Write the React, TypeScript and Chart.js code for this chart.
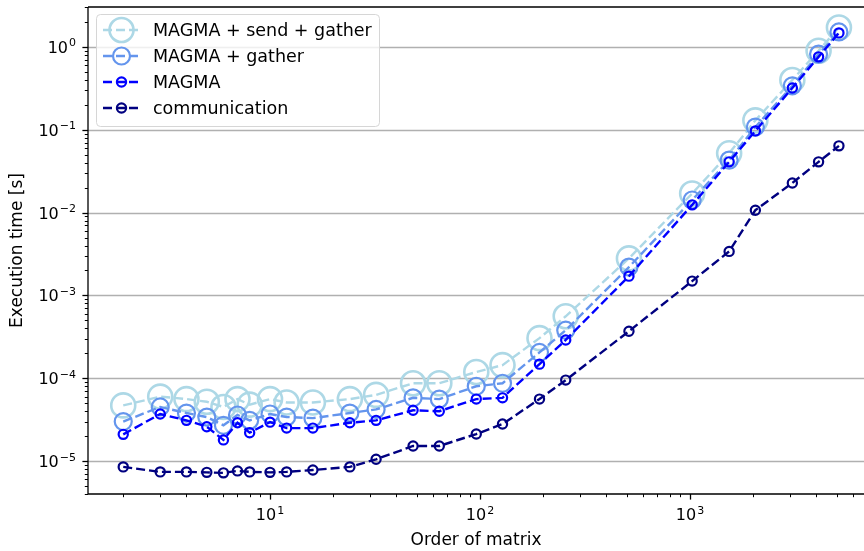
import React, { useEffect, useRef } from 'react';
import { Chart, registerables } from 'chart.js';

Chart.register(...registerables);

// Matrix orders (x) and execution times in seconds (y)
const orders = [2, 3, 4, 5, 6, 7, 8, 10, 12, 16, 24, 32, 48, 64, 96, 128, 192, 256, 512, 1024, 1536, 2048, 3072, 4096, 5120];
const magmaSendGather = [4.7e-5, 6.0e-5, 5.6e-5, 5.2e-5, 4.5e-5, 5.6e-5, 4.8e-5, 5.6e-5, 5.1e-5, 5.1e-5, 5.6e-5, 6.3e-5, 8.7e-5, 8.7e-5, 1.19e-4, 1.44e-4, 3.05e-4, 5.6e-4, 2.8e-3, 1.7e-2, 5.2e-2, 0.13, 0.4, 0.9, 1.72];
const magmaGather = [3.0e-5, 4.5e-5, 3.8e-5, 3.4e-5, 2.7e-5, 3.6e-5, 3.1e-5, 3.7e-5, 3.4e-5, 3.3e-5, 3.8e-5, 4.2e-5, 5.8e-5, 5.6e-5, 8.0e-5, 8.7e-5, 2.05e-4, 3.8e-4, 2.2e-3, 1.42e-2, 4.3e-2, 0.108, 0.34, 0.82, 1.52];
const magma = [2.1e-5, 3.7e-5, 3.1e-5, 2.6e-5, 1.8e-5, 2.9e-5, 2.2e-5, 2.95e-5, 2.5e-5, 2.5e-5, 2.9e-5, 3.1e-5, 4.1e-5, 4.0e-5, 5.6e-5, 5.8e-5, 1.48e-4, 2.9e-4, 1.71e-3, 1.24e-2, 4.1e-2, 9.7e-2, 0.32, 0.76, 1.48];
const communication = [8.5e-6, 7.4e-6, 7.4e-6, 7.3e-6, 7.2e-6, 7.6e-6, 7.4e-6, 7.3e-6, 7.4e-6, 7.8e-6, 8.5e-6, 1.05e-5, 1.52e-5, 1.52e-5, 2.12e-5, 2.8e-5, 5.6e-5, 9.5e-5, 3.7e-4, 1.49e-3, 3.4e-3, 1.07e-2, 2.28e-2, 4.1e-2, 6.4e-2];

// Decade exponents that get a labelled major tick
const xTickExponents = [1, 2, 3];
const yTickExponents = [-5, -4, -3, -2, -1, 0];

const X_MIN = 1.359;
const X_MAX = 6740;
const Y_MIN = 4.0e-6;
const Y_MAX = 3.04;

const FONT = "'DejaVu Sans', sans-serif";

type SeriesStyle = {
  label: string;
  values: number[];
  color: string;
  radius: number;
  markerWidth: number;
};

const series: SeriesStyle[] = [
  { label: 'MAGMA + send + gather', values: magmaSendGather, color: '#add8e6', radius: 12, markerWidth: 2.6 },
  { label: 'MAGMA + gather', values: magmaGather, color: '#6495ed', radius: 8.5, markerWidth: 2.2 },
  { label: 'MAGMA', values: magma, color: '#0000ff', radius: 4.6, markerWidth: 2.2 },
  { label: 'communication', values: communication, color: '#000080', radius: 4.6, markerWidth: 2.2 },
];

const LINE_WIDTH = 2.4;
const DASH = [9, 4];

function logTicks(min: number, max: number) {
  const out: { v: number; major: boolean; exp: number }[] = [];
  for (let e = Math.floor(Math.log10(min)); e <= Math.ceil(Math.log10(max)); e++) {
    for (let m = 1; m <= 9; m++) {
      const v = m * Math.pow(10, e);
      if (v >= min && v <= max) out.push({ v, major: m === 1, exp: e });
    }
  }
  return out;
}

function drawPower(ctx: CanvasRenderingContext2D, exp: number, x: number, y: number, align: 'right' | 'center') {
  const base = '10';
  const sup = exp < 0 ? '\u2212' + Math.abs(exp) : String(exp);
  ctx.font = `16px ${FONT}`;
  const wb = ctx.measureText(base).width;
  ctx.font = `11px ${FONT}`;
  const ws = ctx.measureText(sup).width;
  const total = wb + ws + 1;
  const left = align === 'right' ? x - total : x - total / 2;
  ctx.textAlign = 'left';
  ctx.textBaseline = 'alphabetic';
  ctx.font = `16px ${FONT}`;
  ctx.fillText(base, left, y);
  ctx.font = `11px ${FONT}`;
  ctx.fillText(sup, left + wb + 1, y - 6.5);
}

const decorPlugin = {
  id: 'decor',
  beforeDatasetsDraw(chart: any) {
    const { ctx, chartArea: a, scales } = chart;
    const y = scales.y;
    ctx.save();
    ctx.strokeStyle = '#b0b0b0';
    ctx.lineWidth = 1.3;
    for (const e of yTickExponents) {
      const py = Math.round(y.getPixelForValue(Math.pow(10, e))) + 0.5;
      ctx.beginPath();
      ctx.moveTo(a.left, py);
      ctx.lineTo(a.right, py);
      ctx.stroke();
    }
    ctx.restore();
  },
  afterDraw(chart: any) {
    const { ctx, chartArea: a, scales } = chart;
    const x = scales.x;
    const y = scales.y;
    ctx.save();

    // spines
    ctx.strokeStyle = '#000';
    ctx.lineWidth = 1.3;
    ctx.beginPath();
    ctx.moveTo(a.left, a.top);
    ctx.lineTo(a.right + 2, a.top);
    ctx.moveTo(a.left, a.top);
    ctx.lineTo(a.left, a.bottom);
    ctx.lineTo(a.right + 2, a.bottom);
    ctx.stroke();

    // tick marks
    for (const t of logTicks(X_MIN, X_MAX)) {
      const px = Math.round(x.getPixelForValue(t.v)) + 0.5;
      ctx.lineWidth = t.major ? 1.3 : 1;
      ctx.beginPath();
      ctx.moveTo(px, a.bottom);
      ctx.lineTo(px, a.bottom + (t.major ? 5.6 : 3.2));
      ctx.stroke();
    }
    for (const t of logTicks(Y_MIN, Y_MAX)) {
      const py = Math.round(y.getPixelForValue(t.v)) + 0.5;
      ctx.lineWidth = t.major ? 1.3 : 1;
      ctx.beginPath();
      ctx.moveTo(a.left, py);
      ctx.lineTo(a.left - (t.major ? 5.6 : 3.2), py);
      ctx.stroke();
    }

    // tick labels
    ctx.fillStyle = '#000';
    for (const e of xTickExponents) {
      const px = x.getPixelForValue(Math.pow(10, e));
      drawPower(ctx, e, px, a.bottom + 26, 'center');
    }
    for (const e of yTickExponents) {
      const py = y.getPixelForValue(Math.pow(10, e));
      drawPower(ctx, e, a.left - 12, py + 6, 'right');
    }

    // axis titles
    ctx.font = `17px ${FONT}`;
    ctx.textAlign = 'center';
    ctx.textBaseline = 'alphabetic';
    ctx.fillText('Order of matrix', (a.left + a.right) / 2, a.bottom + 51);
    ctx.save();
    ctx.translate(22, (a.top + a.bottom) / 2);
    ctx.rotate(-Math.PI / 2);
    ctx.fillText('Execution time [s]', 0, 0);
    ctx.restore();

    // legend
    const bx = 96.5, by = 14.5, bw = 283, bh = 112, r = 4;
    ctx.beginPath();
    ctx.moveTo(bx + r, by);
    ctx.arcTo(bx + bw, by, bx + bw, by + bh, r);
    ctx.arcTo(bx + bw, by + bh, bx, by + bh, r);
    ctx.arcTo(bx, by + bh, bx, by, r);
    ctx.arcTo(bx, by, bx + bw, by, r);
    ctx.closePath();
    ctx.fillStyle = 'rgba(255,255,255,0.8)';
    ctx.fill();
    ctx.strokeStyle = '#d6d6d6';
    ctx.lineWidth = 1;
    ctx.stroke();

    series.forEach((s, i) => {
      const cy = 30 + i * 26;
      ctx.strokeStyle = s.color;
      ctx.lineWidth = LINE_WIDTH;
      ctx.setLineDash(DASH);
      ctx.beginPath();
      ctx.moveTo(103, cy);
      ctx.lineTo(140, cy);
      ctx.stroke();
      ctx.setLineDash([]);
      ctx.lineWidth = s.markerWidth;
      ctx.beginPath();
      ctx.arc(121.5, cy, s.radius, 0, Math.PI * 2);
      ctx.stroke();
      ctx.fillStyle = '#000';
      ctx.font = `17.5px ${FONT}`;
      ctx.textAlign = 'left';
      ctx.textBaseline = 'middle';
      ctx.fillText(s.label, 153, cy + 1);
    });

    ctx.restore();
  },
};

export default function App() {
  const ref = useRef<HTMLCanvasElement>(null);

  useEffect(() => {
    if (!ref.current) return;
    // later entries are painted first, so the widest markers sit underneath
    const datasets = [...series].reverse().map((s) => ({
      label: s.label,
      data: orders.map((o, i) => ({ x: o, y: s.values[i] })),
      borderColor: s.color,
      borderWidth: LINE_WIDTH,
      borderDash: DASH,
      pointRadius: s.radius,
      pointBorderWidth: s.markerWidth,
      pointBorderColor: s.color,
      pointBackgroundColor: 'rgba(0,0,0,0)',
      pointHoverRadius: s.radius,
      fill: false,
      tension: 0,
    }));

    const chart = new Chart(ref.current, {
      type: 'line',
      data: { datasets },
      options: {
        animation: false,
        responsive: false,
        events: [],
        layout: { autoPadding: false, padding: { top: 7, right: 0, left: 0, bottom: 0 } },
        plugins: {
          legend: { display: false },
          tooltip: { enabled: false },
        },
        scales: {
          x: {
            type: 'logarithmic',
            min: X_MIN,
            max: X_MAX,
            grid: { display: false },
            border: { display: false },
            ticks: { display: false },
            afterFit: (s: any) => {
              s.height = 57;
            },
          },
          y: {
            type: 'logarithmic',
            min: Y_MIN,
            max: Y_MAX,
            grid: { display: false },
            border: { display: false },
            ticks: { display: false },
            afterFit: (s: any) => {
              s.width = 88;
            },
          },
        },
      },
      plugins: [decorPlugin],
    } as any);

    return () => chart.destroy();
  }, []);

  return (
    <div style={{ position: 'fixed', left: 0, top: 0, width: 864, height: 551, background: '#fff' }}>
      <canvas ref={ref} width={864} height={551} />
    </div>
  );
}
